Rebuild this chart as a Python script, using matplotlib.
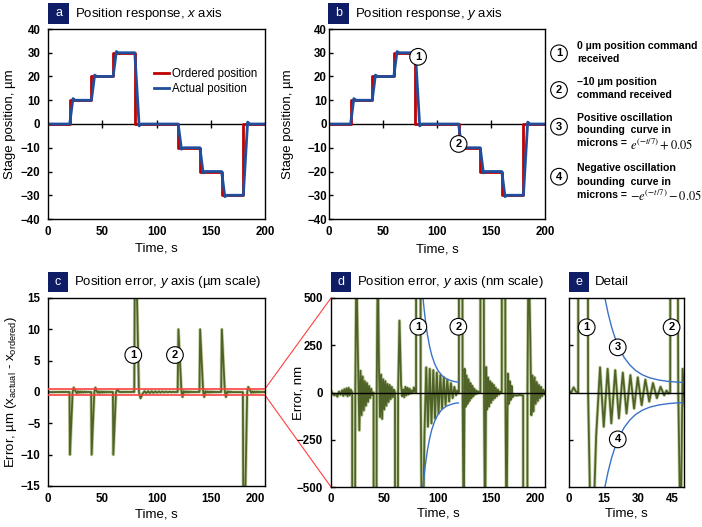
import numpy as np
import matplotlib.pyplot as plt
from matplotlib.patches import Rectangle, ConnectionPatch
import matplotlib.patheffects as pe

plt.rcParams['font.family'] = ['Liberation Sans', 'DejaVu Sans']
plt.rcParams['mathtext.fontset'] = 'custom'
plt.rcParams['mathtext.rm'] = 'Liberation Sans'
plt.rcParams['mathtext.it'] = 'Liberation Sans:italic'
plt.rcParams['mathtext.bf'] = 'Liberation Sans:bold'

# position command and stage response, µm
ordered_t = [0, 20, 20, 40, 40, 60, 60, 80, 80, 120, 120, 140, 140, 160, 160, 180, 180, 200]
ordered_pos = [0, 0, 10, 10, 20, 20, 30, 30, 0, 0, -10, -10, -20, -20, -30, -30, 0, 0]
actual_t = [0, 20, 23, 25, 40, 43, 45, 60, 63, 65, 80, 84, 86,
            120, 123, 125, 140, 143, 145, 160, 163, 165, 180, 184, 186, 200]
actual_pos = [0, 0, 10.7, 10, 10, 20.6, 20, 20, 30.5, 30, 30, -0.8, 0,
              0, -10.6, -10, -10, -20.6, -20, -20, -30.6, -30, -30, 0.8, 0, 0]

# position error (actual - ordered), nm
err_t = [0, 1.5, 3, 4.5, 6, 7.5, 9, 10.5, 11.5, 12.5, 13.5, 14.5, 15.5, 16.5, 17.5, 18.5, 19.8,
         20.2, 22.7, 23.7, 25.0, 26.5, 27.6, 28.6, 29.6, 30.6, 31.6, 32.6, 33.6, 34.6, 35.6, 36.6, 37.6, 38.6, 39.8,
         40.2, 42.7, 43.7, 44.8, 45.8, 46.8, 47.8, 48.8, 49.8, 50.8, 51.8, 52.8, 53.8, 54.8, 55.8, 56.8, 57.8, 58.8, 59.8,
         60.2, 62.7, 64.0, 65.5, 66.5, 67.5, 68.5, 69.5, 70.5, 71.5, 72.5, 73.5, 74.5, 75.5, 76.5, 77.5, 78.5, 79.5,
         80.3, 83.8, 85.3, 87.3, 89.0, 90.6, 92.3, 93.9, 95.6, 97.2, 98.9, 100.5, 102.2, 103.8, 105.4, 107.1,
         108.7, 110.4, 112.0, 113.7, 115.3, 116.9, 117.9, 118.8, 119.5,
         120.2, 123.0, 124.0, 124.9, 125.8, 126.7, 127.6, 128.5, 129.4, 130.3, 131.2, 132.1, 133.0, 134.0,
         135.0, 136.0, 137.0, 138.0, 139.6,
         140.2, 143.0, 144.0, 145.0, 145.9, 146.8, 147.7, 148.6, 149.5, 150.4, 151.3, 152.2, 153.1, 154.0,
         155.0, 156.0, 157.0, 158.0, 159.6,
         160.2, 163.0, 164.0, 165.2, 166.1, 167.0, 167.9, 168.8, 169.7, 170.5, 175.0, 176.5, 178.0, 179.6,
         180.3, 183.6, 184.6, 186.2, 187.3, 188.3, 189.3, 190.3, 191.3, 192.3, 193.3, 194.3, 195.3, 196.3,
         197.3, 198.3, 199.3, 200.0]
err_nm = [10, -5, -15, -8, -22, 5, -12, 12, -18, 18, -12, 22, -20, 25, -15, 15, 0,
          -10000, 0, 700, 250, -200, 115, -120, 85, -95, 60, -70, 50, -50, 35, -30, 20, -15, 0,
          -10000, 0, 700, 150, -130, 95, -140, 70, -90, 60, -70, 45, -50, 40, -35, 30, -25, 15, 0,
          -10000, 0, 380, 40, -20, 15, -25, 30, -15, 25, -10, 20, -5, 10, 0, 27, 5, 0,
          30000, 0, -1000, -230, 133, -181, 125, -163, 118, -137, 105, -111, 92, -85, 80, -67,
          68, -48, 50, -30, 30, -15, 10, -5, 0,
          10000, 0, -800, 125, -75, 90, -60, 70, -45, 50, -30, 35, -20, 20,
          -10, 10, -5, 5, 0,
          10000, 0, -800, 135, -90, 80, -75, 60, -55, 50, -40, 40, -30, 25,
          -20, 15, -10, 5, 0,
          10000, 0, -800, 100, -60, 60, -40, 35, -25, -15, -15, -12, -15, -15,
          -30000, 0, 800, 300, -120, 90, -100, 80, -60, 55, -45, 40, -30, 30,
          -20, 15, -10, 5]

# oscillation bounding curve after command 1, nm (panel d time base)
bound_d_t = [85.5, 86, 87, 88, 90, 92, 94, 97, 100, 104, 108, 112, 116, 119]
bound_d_nm = [532, 500, 442, 392, 310, 248, 200, 150, 116, 88, 72, 63, 57, 55]
# same curve in the detail panel, nm (panel e time base)
bound_e_t = [15.0, 15.6, 17, 18.5, 20, 22, 24, 26.5, 29, 32, 35, 39, 43, 47, 50]
bound_e_nm = [540, 500, 419, 347, 290, 230, 185, 145, 116, 93, 78, 66, 59, 55, 53]
detail_start = 75.5  # s, start of the detail window

err_t = np.array(err_t)
err_nm = np.array(err_nm, dtype=float)

RED = '#c00000'
BLUE = '#1f4e9c'
GREEN = '#4f6228'
CURVE = '#3a72c8'
NAVY = '#0f1c66'
ZOOM = '#ff4040'

W, H = 702, 527
fig = plt.figure(figsize=(W / 100, H / 100), dpi=100)


def px_axes(left, top, right, bottom):
    return fig.add_axes([left / W, 1 - bottom / H, (right - left) / W, (bottom - top) / H])


def header(letter, title, left, top, size=21):
    fig.patches.append(Rectangle((left / W, 1 - (top + size) / H), size / W, size / H,
                                 transform=fig.transFigure, facecolor=NAVY, edgecolor='none'))
    fig.text((left + size / 2) / W, 1 - (top + size / 2) / H, letter, color='white',
             ha='center', va='center', fontsize=9)
    fig.text((left + size + 6) / W, 1 - (top + size / 2) / H, title, ha='left', va='center',
             fontsize=9.5)


def style(ax, xlim, ylim, xticks, yticks, ypad=5.5, show_ylabels=True):
    ax.set_xlim(*xlim)
    ax.set_ylim(*ylim)
    ax.set_xticks(xticks)
    ax.set_yticks(yticks)
    ax.tick_params(axis='x', length=0, pad=5)
    ax.tick_params(axis='y', direction='in', length=3, width=1, pad=ypad, labelleft=show_ylabels)
    for lab in ax.get_xticklabels() + ax.get_yticklabels():
        lab.set_fontweight('bold')
        lab.set_fontsize(8.3)
    for sp in ax.spines.values():
        sp.set_linewidth(1)


def zero_ticks(ax, ticks):
    sec = ax.secondary_xaxis(0.5)
    sec.set_xticks(ticks)
    sec.tick_params(axis='x', direction='inout', length=6, width=1, labeltop=False, labelbottom=False)
    for sp in sec.spines.values():
        sp.set_visible(False)


CIRCLE = dict(boxstyle='circle,pad=0.3', fc='white', ec='black', lw=0.8)


def badge(ax, x, y, n):
    ax.text(x, y, n, ha='center', va='center', fontsize=8, fontweight='bold', zorder=6, bbox=CIRCLE)


green_fx = [pe.Stroke(linewidth=2.4, foreground='#c5d2a5'), pe.Normal()]

# ---- a: x axis response
ax_a = px_axes(48, 29, 265, 219)
ax_a.axhline(0, color='black', lw=1, zorder=1)
ax_a.plot(ordered_t, ordered_pos, color=RED, lw=2, label='Ordered position')
ax_a.plot(actual_t, actual_pos, color=BLUE, lw=2, label='Actual position')
style(ax_a, (0, 200), (-40, 40), range(0, 201, 50), range(-40, 41, 10))
zero_ticks(ax_a, [50, 100, 150])
ax_a.set_xlabel('Time, s', fontsize=9.5)
ax_a.set_ylabel('Stage position, µm', fontsize=9.5)
ax_a.xaxis.set_label_coords(0.5, -0.125)
ax_a.yaxis.set_label_coords(-0.147, 0.5)
ax_a.legend(loc='upper left', bbox_to_anchor=(0.49, 0.795), frameon=False, fontsize=8.3,
            handlelength=1.3, handletextpad=0.2, labelspacing=0.3, borderpad=0, borderaxespad=0)

# ---- b: y axis response
ax_b = px_axes(329, 29, 545, 219)
ax_b.axhline(0, color='black', lw=1, zorder=1)
ax_b.plot(ordered_t, ordered_pos, color=RED, lw=2)
ax_b.plot(actual_t, actual_pos, color=BLUE, lw=2)
style(ax_b, (0, 200), (-40, 40), range(0, 201, 50), range(-40, 41, 10), ypad=1.5)
zero_ticks(ax_b, [50, 100, 150])
ax_b.set_xlabel('Time, s', fontsize=9.5)
ax_b.set_ylabel('Stage position, µm', fontsize=9.5)
ax_b.xaxis.set_label_coords(0.5, -0.13)
ax_b.yaxis.set_label_coords(-0.162, 0.5)
badge(ax_b, 82.5, 28.3, '1')
badge(ax_b, 120, -8.4, '2')

# legend of numbered markers: circle centre y, then (line centre y, text, formula) per line
notes = [
    (53.3, '1', [(46.0, '0 µm position command', None), (59.5, 'received', None)]),
    (90.0, '2', [(82.3, '–10 µm position', None), (95.0, 'command received', None)]),
    (126.7, '3', [(117.7, 'Positive oscillation', None), (130.5, 'bounding  curve in', None),
                  (143.5, 'microns =', r'$e^{(-t/7)} + 0.05$')]),
    (176.7, '4', [(168.3, 'Negative oscillation', None), (182.0, 'bounding  curve in', None),
                  (195.5, 'microns =', r'$-e^{(-t/7)} - 0.05$')]),
]
for cy, n, lines in notes:
    fig.text(559 / W, 1 - cy / H, n, ha='center', va='center', fontsize=8, fontweight='bold',
             bbox=CIRCLE)
    for ly, txt, formula in lines:
        fig.text(577 / W, 1 - ly / H, txt, ha='left', va='center', fontsize=7.6, fontweight='bold')
        if formula:
            fig.text(630 / W, 1 - (ly + 0.5) / H, formula, ha='left', va='center', fontsize=9,
                     math_fontfamily='stix')

# ---- c: error, µm scale
ax_c = px_axes(48, 298, 265, 486)
ax_c.plot(err_t, err_nm / 1000, color=GREEN, lw=1.3, path_effects=green_fx, zorder=2)
ax_c.axhline(0.5, color=ZOOM, lw=1.2, zorder=3)
ax_c.axhline(-0.5, color=ZOOM, lw=1.2, zorder=3)
style(ax_c, (0, 200), (-15, 15), range(0, 201, 50), range(-15, 16, 5))
ax_c.get_xticklabels()[-1].set_ha('right')
ax_c.set_xlabel('Time, s', fontsize=9.5)
ax_c.set_ylabel(r'Error, µm (x$_{\mathrm{actual}}$ - x$_{\mathrm{ordered}}$)', fontsize=9.5)
ax_c.xaxis.set_label_coords(0.5, -0.12)
ax_c.yaxis.set_label_coords(-0.135, 0.5)
badge(ax_c, 78.6, 5.9, '1')
badge(ax_c, 117, 5.9, '2')

# ---- d: error, nm scale
ax_d = px_axes(331, 298, 545, 487)
ax_d.plot(err_t, err_nm, color=GREEN, lw=1.3, path_effects=green_fx, zorder=2)
ax_d.plot(bound_d_t, bound_d_nm, color=CURVE, lw=1, zorder=2.5)
ax_d.plot(bound_d_t, [-v for v in bound_d_nm], color=CURVE, lw=1, zorder=2.5)
ax_d.axhline(0, color='black', lw=1, zorder=3)
style(ax_d, (0, 200), (-500, 500), range(0, 201, 50), range(-500, 501, 250), ypad=6)
ax_d.tick_params(axis='x', pad=4)
ax_d.get_xticklabels()[-1].set_ha('right')
ax_d.set_xlabel('Time, s', fontsize=9.5)
ax_d.set_ylabel('Error, nm', fontsize=9.5)
ax_d.xaxis.set_label_coords(0.5, -0.108)
ax_d.yaxis.set_label_coords(-0.126, 0.5)
badge(ax_d, 81.6, 348, '1')
badge(ax_d, 119, 348, '2')

# zoom box connectors from c to d
for yc, yd in [(0.5, 500), (-0.5, -500)]:
    fig.add_artist(ConnectionPatch(xyA=(200, yc), coordsA=ax_c.transData,
                                   xyB=(0, yd), coordsB=ax_d.transData,
                                   color=ZOOM, lw=0.8, zorder=0))

# ---- e: detail
ax_e = px_axes(569, 298, 684, 487)
ax_e.plot(err_t - detail_start, err_nm, color=GREEN, lw=1.3, path_effects=green_fx, zorder=2)
ax_e.plot(bound_e_t, bound_e_nm, color=CURVE, lw=1, zorder=2.5)
ax_e.plot(bound_e_t, [-v for v in bound_e_nm], color=CURVE, lw=1, zorder=2.5)
ax_e.axhline(0, color='black', lw=1, zorder=3)
style(ax_e, (0, 50), (-500, 500), [0, 15, 30, 45], [-250, 250], show_ylabels=False)
ax_e.tick_params(axis='x', pad=4)
ax_e.set_xlabel('Time, s', fontsize=9.5)
ax_e.xaxis.set_label_coords(0.5, -0.108)
badge(ax_e, 7.7, 345, '1')
badge(ax_e, 44.6, 345, '2')
badge(ax_e, 21.2, 239, '3')
badge(ax_e, 21.2, -248, '4')

header('a', 'Position response, $x$ axis', 48, 3)
header('b', 'Position response, $y$ axis', 328, 3)
header('c', 'Position error, $y$ axis (µm scale)', 48, 272, size=20)
header('d', 'Position error, $y$ axis (nm scale)', 331, 272, size=20)
header('e', 'Detail', 569, 272, size=20)

fig.savefig('out.png', dpi=100)
